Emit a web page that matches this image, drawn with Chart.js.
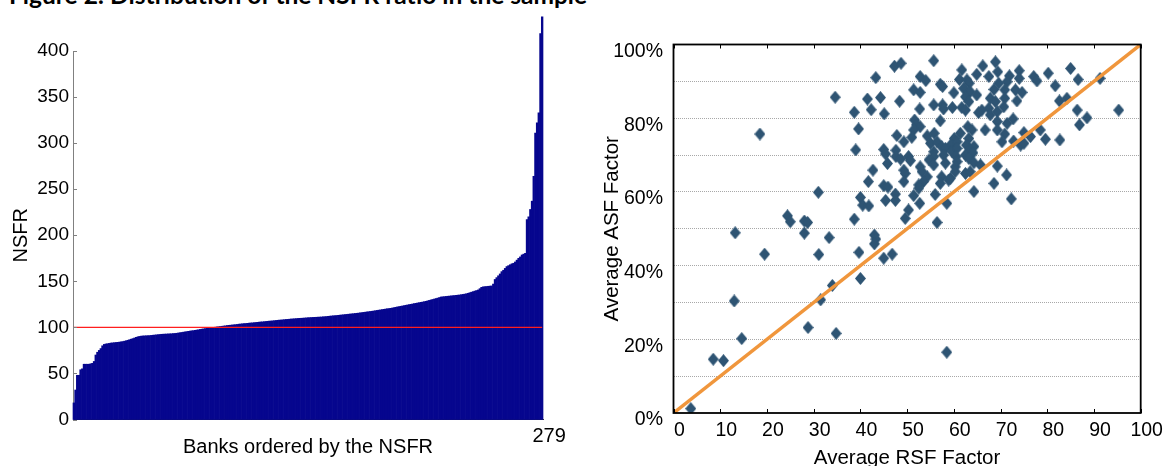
<!DOCTYPE html>
<html><head><meta charset="utf-8">
<script src="https://cdn.jsdelivr.net/npm/chart.js@4/dist/chart.umd.min.js"></script>
<style>
html,body{margin:0;padding:0;background:#fff;width:1169px;height:466px;overflow:hidden;}
#title{position:absolute;left:9px;top:-17px;font:bold 24.5px Lato, sans-serif;color:#000;white-space:nowrap;line-height:24.5px;}
#c1{position:absolute;left:0;top:0;}
#c2{position:absolute;left:580px;top:0;}
</style></head><body>
<div id="title">Figure 2: Distribution of the NSFR ratio in the sample</div>
<canvas id="c1" width="600" height="480"></canvas>
<canvas id="c2" width="589" height="480"></canvas>
<script>
// ---- Left panel: NSFR per bank, sorted ----
const nsfr = [
 18, 32, 48, 48, 54, 55, 60, 60, 60, 60, 60.5, 61,
 63, 70, 73, 75, 77, 80, 81.5, 82, 82.3, 82.6,
 83, 83.2, 83.4, 83.6, 83.8, 84, 84.3, 84.6, 85, 85.5,
 86, 86.6, 87.2, 87.8, 88.5, 89.2, 89.8, 90.2, 90.5, 90.7,
 90.8, 90.9, 91, 91.1, 91.3, 91.5, 91.7, 91.9, 92.1, 92.3,
 92.5, 92.6, 92.7, 92.8, 92.9, 93, 93.1, 93.3, 93.4, 93.6,
 93.9, 94.2, 94.5, 94.8, 95.1, 95.4, 95.7, 96.0, 96.3, 96.5,
 96.8, 97.1, 97.4, 97.8, 98.1, 98.4, 98.7,
 99.0, 99.2, 99.5, 99.7, 100.0, 100.2, 100.5, 100.7, 101.0, 101.2, 101.5,
 101.7, 102.0, 102.2, 102.4, 102.6, 102.8, 103.0, 103.2, 103.5, 103.7,
 103.9, 104.1, 104.2, 104.4, 104.6, 104.8, 104.9, 105.1, 105.3, 105.5,
 105.7, 105.9, 106.0, 106.2, 106.4, 106.6, 106.8, 106.9, 107.1, 107.3,
 107.5, 107.7, 107.9, 108.0, 108.2, 108.4, 108.6, 108.7, 108.9, 109.1,
 109.2, 109.4, 109.5, 109.7, 109.8, 109.9, 110.0, 110.2, 110.3, 110.5,
 110.6, 110.7, 110.8, 110.9, 111.0, 111.1, 111.2, 111.3, 111.5, 111.6,
 111.8, 112.0, 112.2, 112.4, 112.6, 112.7, 112.9, 113.1, 113.3, 113.5,
 113.7, 113.9, 114.1, 114.3, 114.5, 114.7, 114.9, 115.1, 115.3,
 115.5, 115.8, 116.0, 116.3, 116.5, 116.8, 117.0, 117.3, 117.5, 117.8,
 118.1, 118.4, 118.7, 119.0, 119.3, 119.6, 119.9, 120.2, 120.4, 120.7,
 121.0, 121.4, 121.8, 122.2, 122.5, 122.9, 123.2, 123.6, 124.0, 124.3,
 124.7, 125.0, 125.4, 125.8, 126.1, 126.5, 126.8, 127.2, 127.5, 127.9,
 128.3, 128.8, 129.3, 129.8, 130.3, 130.8, 131.3, 131.8, 132.4, 133.0,
 133.2, 133.4, 133.6, 133.8, 134.0, 134.2, 134.4, 134.6, 134.8, 135.0, 135.2, 135.5, 135.8, 136.1, 136.5, 137.0,
 137.6, 138.2, 138.8, 139.4, 140.0, 140.6,
 142, 143.5, 144, 144.2, 144.4, 144.6, 144.8, 145, 147,
 152, 154, 156, 158, 160.5, 162, 164, 166, 167, 168, 169, 169.6, 171, 173, 175, 176.5, 178.6, 179.5, 180.4,
 217, 220, 228, 237, 264, 311, 322, 333, 419, 437
];
const nsfrThreshold = 100;
const nsfrAxisMin = 0, nsfrAxisMax = 400, nsfrAxisStep = 50;
const bankTickLabels = ['279'];

// ---- Right panel: average RSF factor (x) vs average ASF factor (y) ----
const rsfFactor = [
 18.5, 34.6, 47.3, 43.3, 41.5, 44.3, 48.4, 38.7, 42.3, 45.1,
 39.6, 47.8, 39.0, 45.0, 45.4, 47.6, 47.6, 45.8, 42.7, 41.7,
 45.0, 45.9, 31.0, 47.5, 40.0, 40.5, 41.8, 45.4, 47.5, 24.4,
 25.0, 28.0, 28.7, 38.7,
 13.2, 28.0, 33.3, 43.0, 43.3, 43.0, 19.5, 31.1, 39.7, 45.0,
 46.8, 40.0, 34.0, 31.5, 13.0, 28.8, 34.8, 14.6, 8.5, 10.7,
 3.7, 58.5,
 48.7, 55.7, 52.8, 54.0, 61.7, 64.9, 66.2, 68.9, 69.4, 67.5,
 71.9, 74.0, 74.0, 77.1, 77.8, 80.2, 85.0, 86.6, 91.3, 81.7,
 61.2, 62.8, 63.3, 57.1, 57.6, 62.1, 63.5, 69.6, 71.4, 68.6,
 70.9, 51.4, 52.8, 60.0, 73.2, 74.6, 62.5, 64.9, 70.9, 73.5,
 63.2, 67.8, 68.9, 82.6, 84.2, 55.7, 57.6, 59.7, 57.8, 61.7,
 62.5, 66.0, 67.5, 70.7, 52.7, 65.3, 67.8, 69.3, 86.4, 95.3,
 51.6, 57.1, 52.0, 52.8, 63.0, 63.9, 69.3, 71.4, 72.7, 88.5,
 86.9, 51.4, 66.7, 69.3, 51.0, 54.3, 55.8, 49.3, 60.1, 61.4,
 70.9, 75.0, 78.5, 55.0, 56.4, 59.3, 60.7, 63.2, 70.3, 72.8,
 76.4, 79.6, 82.7, 74.3, 75.0, 57.4, 55.7, 58.2, 59.6, 60.7,
 62.7, 63.5, 64.3, 48.6, 50.3, 55.7, 57.8, 60.5, 62.5, 64.1,
 50.7, 54.7, 58.2, 60.7, 63.2, 64.3, 65.7, 49.3, 52.8, 55.7,
 60.3, 69.3, 49.6, 53.2, 54.3, 57.4, 59.3, 60.3, 62.5, 63.5,
 71.3, 49.3, 53.5, 52.5, 57.1, 58.9, 68.6, 52.5, 56.0, 51.4,
 64.3, 52.7, 58.5, 72.3, 50.3, 49.6, 56.4
];
const asfFactor = [
 75.7, 85.7, 94.1, 91.0, 85.2, 85.6, 84.6, 81.6, 82.3, 81.2,
 77.1, 75.3, 71.4, 71.5, 70.3, 71.3, 69.6, 67.7, 65.9, 62.8,
 61.7, 61.3, 59.9, 59.4, 58.5, 56.4, 56.2, 57.7, 57.7, 53.5,
 51.9, 52.1, 51.7, 52.6,
 48.9, 48.8, 47.6, 48.3, 47.2, 45.9, 43.1, 43.0, 43.6, 42.0,
 43.1, 36.5, 34.6, 30.7, 30.4, 23.2, 21.6, 20.2, 14.6, 14.2,
 1.2, 16.5,
 94.9, 95.6, 91.3, 90.2, 93.1, 91.9, 94.2, 95.3, 92.6, 91.3,
 91.5, 92.9, 90.8, 91.3, 90.1, 92.2, 93.5, 90.5, 90.8, 88.8,
 90.5, 90.4, 89.5, 89.2, 88.6, 88.1, 87.2, 89.5, 89.9, 87.8,
 87.7, 87.7, 87.0, 86.9, 87.7, 87.0, 85.8, 86.3, 85.4, 84.7,
 84.5, 85.4, 84.5, 84.7, 85.4, 83.6, 83.6, 82.9, 82.5, 82.9,
 82.2, 82.2, 82.7, 83.1, 82.5, 81.5, 80.9, 81.8, 82.2, 82.2,
 79.5, 79.3, 78.2, 77.7, 77.7, 76.8, 79.1, 78.6, 79.8, 80.1,
 78.2, 76.8, 76.8, 76.8, 74.8, 75.2, 75.9, 73.6, 74.5, 75.9,
 75.7, 76.1, 76.8, 73.2, 73.6, 72.7, 73.6, 74.5, 73.6, 73.8,
 75.0, 74.3, 74.1, 72.7, 73.2, 72.3, 70.9, 71.8, 70.9, 71.8,
 72.7, 71.4, 72.3, 68.9, 69.6, 69.6, 70.0, 69.6, 70.0, 70.6,
 68.5, 68.7, 67.8, 68.2, 69.1, 67.9, 67.3, 65.9, 66.8, 67.3,
 66.8, 67.0, 65.0, 65.5, 64.1, 64.1, 63.7, 65.5, 65.0, 65.5,
 64.6, 62.8, 62.8, 61.9, 62.3, 63.2, 62.3, 61.0, 59.3, 59.0,
 60.1, 56.9, 56.9, 58.1, 55.1, 52.8, 51.7
];
const diagonalX = [0, 100];
const diagonalY = [0, 100];

Chart.defaults.font.family = "'Liberation Sans', Arial, sans-serif";
Chart.defaults.color = '#000';

// Diamond marker glyph (slightly taller than wide, like the original)
function makeDiamond(w, h, color) {
  const c = document.createElement('canvas');
  c.width = w; c.height = h;
  const g = c.getContext('2d');
  g.fillStyle = color;
  g.beginPath();
  g.moveTo(w / 2, 0); g.lineTo(w, h / 2); g.lineTo(w / 2, h); g.lineTo(0, h / 2);
  g.closePath(); g.fill();
  return c;
}
const diamond = makeDiamond(11, 13, '#2E5473');

const inwardTicksLeft = {
  id: 'inwardTicksLeft',
  afterDraw(chart) {
    const {ctx, chartArea: a, scales: {y}} = chart;
    ctx.save();
    ctx.strokeStyle = '#808080'; ctx.lineWidth = 1;
    y.ticks.forEach(t => {
      const py = Math.round(y.getPixelForValue(t.value)) + 0.5;
      ctx.beginPath(); ctx.moveTo(a.left, py); ctx.lineTo(a.left + 4, py); ctx.stroke();
    });
    ctx.restore();
  }
};

const boxFrame = {
  id: 'boxFrame',
  afterDatasetsDraw(chart) {
    const {ctx, chartArea: a, scales: {x}} = chart;
    ctx.save();
    ctx.strokeStyle = '#000'; ctx.lineWidth = 1;
    x.ticks.forEach(t => {
      const px = Math.round(x.getPixelForValue(t.value)) + 0.5;
      ctx.beginPath();
      ctx.moveTo(px, a.top); ctx.lineTo(px, a.top + 4);
      ctx.moveTo(px, a.bottom); ctx.lineTo(px, a.bottom - 4);
      ctx.stroke();
    });
    ctx.lineWidth = 1.8;
    ctx.strokeRect(a.left, a.top, a.right - a.left, a.bottom - a.top);
    ctx.restore();
  }
};

new Chart(document.getElementById('c1'), {
  type: 'bar',
  data: {
    labels: nsfr.map((_, i) => String(i + 1)),
    datasets: [
      {type: 'line', data: nsfr.map(() => nsfrThreshold), borderColor: '#FF1E1E', borderWidth: 1.2, pointRadius: 0, order: 0},
      {type: 'bar', data: nsfr, backgroundColor: '#06068E', borderWidth: 0, barPercentage: 1, categoryPercentage: 1, clip: false, order: 1}
    ]
  },
  options: {
    responsive: false, animation: false, devicePixelRatio: 1,
    layout: {padding: {top: 51, right: 57, left: 0, bottom: 0}},
    plugins: {legend: {display: false}, tooltip: {enabled: false}},
    scales: {
      x: {
        type: 'category', offset: true,
        grid: {display: false, drawTicks: false},
        border: {display: true, color: '#303030'},
        ticks: {autoSkip: false, maxRotation: 0, minRotation: 0,
          callback: (v, i) => i === nsfr.length - 1 ? bankTickLabels[0] : '',
          font: {size: 20}, padding: 5, labelOffset: 7},
        title: {display: true, text: 'Banks ordered by the NSFR', font: {size: 20}, padding: {top: 0, bottom: 21}},
        afterFit(s) { s.height = 60.5; }
      },
      y: {
        min: nsfrAxisMin, max: nsfrAxisMax,
        ticks: {stepSize: nsfrAxisStep, font: {size: 19}, padding: 4},
        grid: {display: false, drawTicks: false},
        border: {display: true, color: '#808080'},
        title: {display: true, text: 'NSFR', font: {size: 20}, padding: {top: 9, bottom: 0}},
        afterFit(s) { s.width = 73; }
      }
    }
  },
  plugins: [inwardTicksLeft]
});

new Chart(document.getElementById('c2'), {
  type: 'scatter',
  data: {
    datasets: [
      {type: 'line', data: diagonalX.map((x, i) => ({x, y: diagonalY[i]})), borderColor: '#F0963C', borderWidth: 3.5, pointRadius: 0, order: 0},
      {type: 'scatter', data: rsfFactor.map((x, i) => ({x, y: asfFactor[i]})), pointStyle: diamond, pointRadius: 6, backgroundColor: '#2E5473', borderWidth: 0, order: 1}
    ]
  },
  options: {
    responsive: false, animation: false, devicePixelRatio: 1,
    layout: {padding: {top: 44.5, right: 28.3, left: 0, bottom: 0}},
    plugins: {legend: {display: false}, tooltip: {enabled: false}},
    scales: {
      x: {
        type: 'linear', min: 0, max: 100,
        ticks: {stepSize: 10, font: {size: 19.5}, padding: 5.6, labelOffset: 6, maxRotation: 0},
        grid: {display: false, drawTicks: false},
        border: {display: false},
        title: {display: true, text: 'Average RSF Factor', font: {size: 20.5}, padding: {top: 0, bottom: 9}},
        afterFit(s) { s.height = 67; }
      },
      y: {
        type: 'linear', min: 0, max: 100,
        ticks: {stepSize: 10, font: {size: 19.5}, padding: 10.5, labelOffset: 7,
          callback: v => (v % 20 === 0 ? v + '%' : '')},
        grid: {drawTicks: false, lineWidth: 1,
          color: c => (c.tick && (c.tick.value === 0 || c.tick.value === 100)) ? 'rgba(0,0,0,0)' : '#a8a8a8'},
        border: {display: false, dash: [1, 1]},
        title: {display: true, text: 'Average ASF Factor', font: {size: 20.5}, padding: {top: 20, bottom: 0}},
        afterFit(s) { s.width = 93.5; }
      }
    }
  },
  plugins: [boxFrame]
});
</script>
</body></html>
